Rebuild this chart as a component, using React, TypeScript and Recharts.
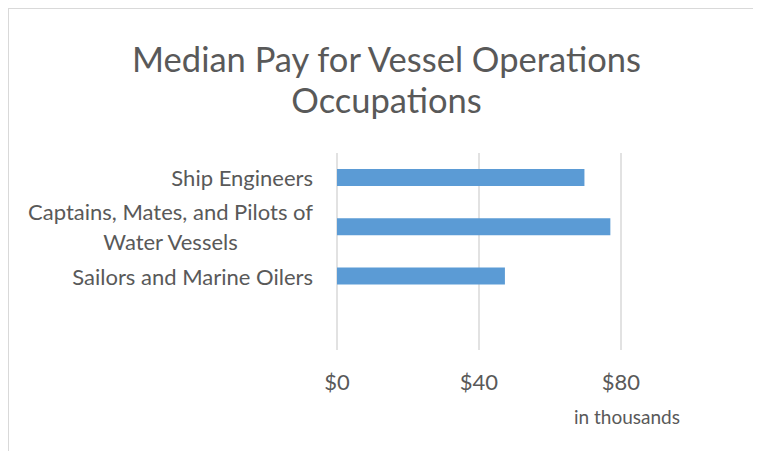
import { BarChart, Bar, XAxis, YAxis, CartesianGrid } from 'recharts';

const categories = ['Ship Engineers', 'Captains, Mates, and Pilots of\nWater Vessels', 'Sailors and Marine Oilers', ''];
const medianPay = [69.7, 77.0, 47.3, null];
const xTicks = [0, 40, 80];
const xDomain = [0, 100];
const titleLines = ['Median Pay for Vessel Operations', 'Occupations'];
const axisTitle = 'in thousands';

const FONT = 'Lato, "Open Sans", sans-serif';
const TEXT = '#595959';
const LABEL_SIZE = 22;
const W = 743;
const H = 442;

const data = categories.map((name, i) => ({ name, pay: medianPay[i] }));

let ctx: CanvasRenderingContext2D | null = null;
function textWidth(s: string, size: number) {
  if (!ctx) ctx = document.createElement('canvas').getContext('2d');
  if (!ctx) return s.length * size * 0.5;
  ctx.font = `${size}px Lato`;
  return ctx.measureText(s).width;
}

// right-aligned block, lines centred on each other (like Excel wraps them)
function CategoryTick({ x, y, payload }: any) {
  const lines = String(payload.value).split('\n').filter(Boolean);
  if (!lines.length) return null;
  const block = Math.max(...lines.map(l => textWidth(l, LABEL_SIZE)));
  const cx = x - 24 - block / 2;
  const lh = 30;
  const start = y - ((lines.length - 1) * lh) / 2;
  return (
    <g>
      {lines.map((l, i) => (
        <text key={i} x={cx} y={start + i * lh} textAnchor="middle" dominantBaseline="central"
          fill={TEXT} fontSize={LABEL_SIZE} fontFamily={FONT}>{l}</text>
      ))}
    </g>
  );
}

function MoneyTick({ x, y, payload }: any) {
  return (
    <text x={x} y={y + 31} textAnchor="middle" dominantBaseline="central"
      fill={TEXT} fontSize={LABEL_SIZE} fontFamily={FONT}>${payload.value}</text>
  );
}

// grid only at the labelled ticks (no line at the plot's right edge)
const gridAtTicks = ({ xAxis, offset }: any) => {
  const s = xAxis && xAxis.scale;
  if (typeof s === 'function') return xTicks.map(t => s(t));
  return xTicks.map(t => offset.left + ((t - xDomain[0]) / (xDomain[1] - xDomain[0])) * offset.width);
};

export default function App() {
  return (
    <div style={{ position: 'relative', width: W, height: H, marginLeft: 1, marginTop: 1 }}>
      <style>{'html{overflow:hidden}'}</style>
      {/* chart frame, cut off at the right and bottom like the source image */}
      <div style={{ position: 'absolute', left: -2, top: -2, width: W + 40, height: H + 40,
        borderTop: '2px solid #D9D9D9', borderLeft: '2px solid #D9D9D9', pointerEvents: 'none' }} />
      <BarChart width={W} height={H} data={data} layout="vertical"
        margin={{ top: 144, right: 60, bottom: 61, left: 0 }}>
        <CartesianGrid horizontal={false} stroke="#D9D9D9" strokeWidth={1.5}
          verticalCoordinatesGenerator={gridAtTicks} />
        <XAxis type="number" domain={xDomain} ticks={xTicks} axisLine={false} tickLine={false}
          tickSize={0} tickMargin={0} height={40} tick={<MoneyTick />} interval={0}
          label={{
            content: ({ viewBox }: any) => (
              <text x={viewBox.x + 290} y={viewBox.y + 66} textAnchor="middle" dominantBaseline="central"
                fill={TEXT} fontSize={19} fontFamily={FONT}>{axisTitle}</text>
            ),
          }} />
        <YAxis type="category" dataKey="name" width={328} axisLine={false} tickLine={false}
          tickSize={0} tickMargin={0} tick={<CategoryTick />} interval={0} />
        <Bar dataKey="pay" fill="#5B9BD5" barSize={17} isAnimationActive={false} />
        {titleLines.map((t, i) => (
          <text key={t} x={377.5} y={63 + i * 41} textAnchor="middle" fill={TEXT}
            fontSize={34.5} fontFamily={FONT}>{t}</text>
        ))}
      </BarChart>
    </div>
  );
}
